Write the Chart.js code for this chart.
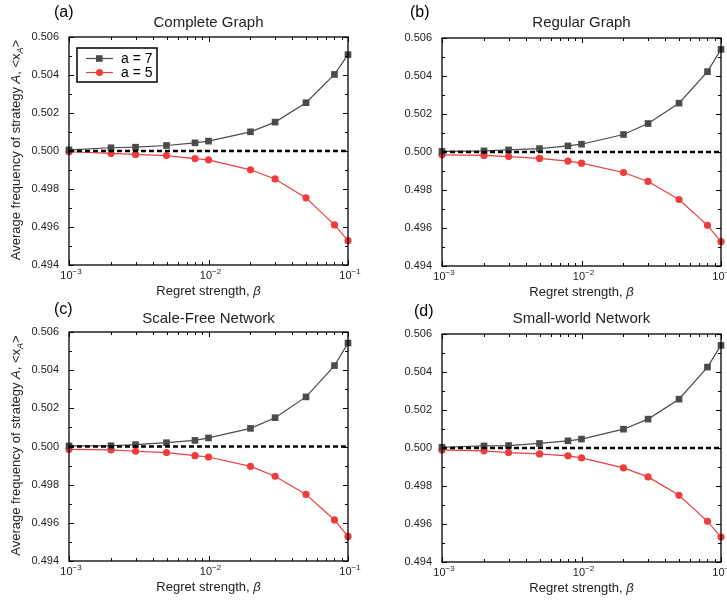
<!DOCTYPE html>
<html>
<head>
<meta charset="utf-8">
<script src="https://cdn.jsdelivr.net/npm/chart.js@4.4.1/dist/chart.umd.min.js"></script>
<style>
body{margin:0;background:#fff;width:727px;height:601px;position:relative;overflow:hidden;}
canvas{position:absolute;}
</style>
</head>
<body>
<canvas id="ca" style="left:0;top:0"></canvas>
<canvas id="cb" style="left:363px;top:0"></canvas>
<canvas id="cc" style="left:0;top:296px"></canvas>
<canvas id="cd" style="left:363px;top:296px"></canvas>
<script>
// regret strength values (x)
const beta = [0.001,0.002,0.003,0.005,0.008,0.01,0.02,0.03,0.05,0.08,0.1];

// (a) complete graph
const completeA7 = [0.50006,0.50017,0.5002,0.50029,0.50043,0.50052,0.50101,0.50152,0.50254,0.50403,0.50507];
const completeA5 = [0.49996,0.49987,0.49982,0.49976,0.4996,0.49953,0.49901,0.49853,0.49753,0.49611,0.49528];
// (b) regular graph
const regularA7 = [0.50003,0.50006,0.50011,0.50018,0.50032,0.50041,0.50092,0.5015,0.50257,0.50423,0.5054];
const regularA5 = [0.49985,0.49982,0.49976,0.49966,0.49952,0.49941,0.49892,0.49845,0.4975,0.49614,0.49528];
// (c) scale-free
const scaleFreeA7 = [0.50003,0.50004,0.5001,0.5002,0.50032,0.50045,0.50095,0.50151,0.5026,0.50424,0.50542];
const scaleFreeA5 = [0.49985,0.49982,0.49975,0.49968,0.49952,0.49945,0.49896,0.49844,0.49749,0.49615,0.49529];
// (d) small-world
const smallWorldA7 = [0.50004,0.50011,0.50013,0.50024,0.50038,0.50047,0.50099,0.50152,0.50257,0.50426,0.5054];
const smallWorldA5 = [0.4999,0.49985,0.49976,0.49969,0.49959,0.49948,0.49895,0.49848,0.49751,0.49614,0.49531];

const reference = [0.5,0.5];
const referenceX = [0.001,0.1];

const xTicks = [0.001,0.01,0.1];
const xTickExp = ["\u22123","\u22122","\u22121"];
const xMinorTicks = [0.002,0.003,0.004,0.005,0.006,0.007,0.008,0.009,0.02,0.03,0.04,0.05,0.06,0.07,0.08,0.09];
const yTicks = [0.494,0.496,0.498,0.5,0.502,0.504,0.506];
const yMinorTicks = [0.495,0.497,0.499,0.501,0.503,0.505];

const seriesNames = ["a = 7","a = 5"];
const grayCol = "#4b4b4b";
const redCol = "#f03c3c";

const FONT = "'Liberation Sans', Arial, sans-serif";

const framePlugin = {
id:"frame",
afterDatasetsDraw(chart, args, opts){
const ctx = chart.ctx;
const a = chart.chartArea;
const xs = chart.scales.x, ys = chart.scales.y;
ctx.save();
ctx.strokeStyle = "#000";
ctx.lineWidth = 1.3;
ctx.strokeRect(a.left, a.top, a.right-a.left, a.bottom-a.top);

ctx.lineWidth = 1;
ctx.beginPath();
const tick = (vals, len, horiz) => {
vals.forEach(v => {
if(horiz){
const px = Math.round(xs.getPixelForValue(v))+0.5;
ctx.moveTo(px,a.bottom); ctx.lineTo(px,a.bottom-len);
ctx.moveTo(px,a.top); ctx.lineTo(px,a.top+len);
} else {
const py = Math.round(ys.getPixelForValue(v))+0.5;
ctx.moveTo(a.left,py); ctx.lineTo(a.left+len,py);
ctx.moveTo(a.right,py); ctx.lineTo(a.right-len,py);
}
});
};
tick(xTicks,5,true);
tick(xMinorTicks,3,true);
tick(yTicks,5,false);
tick(yMinorTicks,3,false);
ctx.stroke();

// x tick labels: 10 with superscript exponent
ctx.fillStyle = "#222";
ctx.textBaseline = "alphabetic";
ctx.textAlign = "left";
xTicks.forEach((v,i) => {
ctx.font = "11px " + FONT;
const wb = ctx.measureText("10").width;
ctx.font = "8px " + FONT;
const we = ctx.measureText(xTickExp[i]).width;
const x0 = xs.getPixelForValue(v) - (wb+we)/2 + 2;
ctx.font = "11px " + FONT;
ctx.fillText("10", x0, a.bottom+13.5);
ctx.font = "8px " + FONT;
ctx.fillText(xTickExp[i], x0+wb, a.bottom+9);
});

// panel letter and title
ctx.fillStyle = "#000";
ctx.textBaseline = "middle";
ctx.textAlign = "left";
ctx.font = "16px " + FONT;
ctx.fillText(opts.label, opts.labelX, opts.labelY);
ctx.textAlign = "center";
ctx.font = "15px " + FONT;
ctx.fillStyle = "#222";
ctx.fillText(opts.title, (a.left+a.right)/2, 23);

// x title
const t1 = "Regret strength, ";
ctx.font = "13px " + FONT;
const w1 = ctx.measureText(t1).width;
ctx.font = "italic 13px " + FONT;
const w2 = ctx.measureText("\u03B2").width;
let sx = (a.left+a.right)/2 - (w1+w2)/2;
ctx.textAlign = "left";
ctx.font = "13px " + FONT;
ctx.fillText(t1, sx, a.bottom+26);
ctx.font = "italic 13px " + FONT;
ctx.fillText("\u03B2", sx+w1, a.bottom+26);

// y title with subscript
if(opts.yTitle){
const parts = [
{t:"Average frequency of strategy ", f:"13px "},
{t:"A", f:"italic 13px "},
{t:", <x", f:"13px "},
{t:"A", f:"italic 9px ", dy:4},
{t:">", f:"13px "}
];
let total = 0;
parts.forEach(p => { ctx.font = p.f + FONT; p.w = ctx.measureText(p.t).width; total += p.w; });
ctx.save();
ctx.translate(16,(a.top+a.bottom)/2 - 1);
ctx.rotate(-Math.PI/2);
let px = -total/2;
parts.forEach(p => { ctx.font = p.f + FONT; ctx.fillText(p.t, px, p.dy||0); px += p.w; });
ctx.restore();
}

// legend box
if(opts.legend){
ctx.lineWidth = 1.5;
ctx.strokeStyle = "#000";
ctx.strokeRect(77,48,80,34);
const rows = [{y:58.5,c:grayCol,sq:true},{y:72.5,c:redCol,sq:false}];
rows.forEach((r,i) => {
ctx.strokeStyle = r.c;
ctx.lineWidth = 1.2;
ctx.beginPath(); ctx.moveTo(86,r.y); ctx.lineTo(113,r.y); ctx.stroke();
ctx.fillStyle = r.c;
ctx.beginPath();
if(r.sq) ctx.rect(96,r.y-3.3,6.6,6.6); else ctx.arc(99.5,r.y,3.5,0,Math.PI*2);
ctx.fill();
ctx.fillStyle = "#000";
ctx.font = "14px " + FONT;
ctx.textAlign = "left";
ctx.fillText(seriesNames[i], 121, r.y+0.5);
});
}
ctx.restore();
}
};

function pts(vals, xv){
return (xv||beta).map((b,i) => ({x:b, y:vals[i]}));
}

function makePanel(id, a7, a5, pad, opts){
const canvas = document.getElementById(id);
canvas.width = pad.w; canvas.height = pad.h;
canvas.style.width = pad.w + "px"; canvas.style.height = pad.h + "px";
return new Chart(canvas,{
type:"line",
data:{
datasets:[
{
label:"ref",
data:pts(reference, referenceX),
borderColor:"#000",
borderWidth:2.6,
borderDash:[5,3],
pointRadius:0,
clip:false
},
{
label:seriesNames[0],
data:pts(a7),
borderColor:grayCol,
backgroundColor:grayCol,
borderWidth:1.2,
pointStyle:"rect",
pointRadius:4.7,
pointBorderWidth:0,
clip:false
},
{
label:seriesNames[1],
data:pts(a5),
borderColor:redCol,
backgroundColor:redCol,
borderWidth:1.2,
pointStyle:"circle",
pointRadius:3.6,
pointBorderWidth:0,
clip:false
}
]
},
options:{
responsive:false,
animation:false,
layout:{padding:{left:0, top:pad.top, right:pad.w-pad.right, bottom:0}},
plugins:{legend:{display:false}, tooltip:{enabled:false}, frame:opts},
scales:{
x:{
type:"logarithmic",
min:0.001, max:0.1,
grid:{display:false, drawTicks:false},
border:{display:false},
afterBuildTicks:(s) => { s.ticks = xTicks.map(v => ({value:v})); },
afterFit:(s) => { s.height = pad.h - pad.bottom; s.paddingLeft = 0; s.paddingRight = 0; },
ticks:{display:false}
},
y:{
type:"linear",
min:0.494, max:0.506,
grid:{display:false, drawTicks:false},
border:{display:false},
afterBuildTicks:(s) => { s.ticks = yTicks.map(v => ({value:v})); },
afterFit:(s) => { s.width = pad.left; s.paddingTop = 0; s.paddingBottom = 0; },
ticks:{
padding:10,
color:"#222",
font:{family:FONT, size:11},
callback:(v) => Number(v).toFixed(3)
}
}
}
},
plugins:[framePlugin]
});
}

makePanel("ca", completeA7, completeA5, {w:363,h:304,left:69,top:37,right:348,bottom:265},
{label:"(a)", labelX:54, labelY:13, title:"Complete Graph", yTitle:true, legend:true});
makePanel("cb", regularA7, regularA5, {w:364,h:304,left:79,top:38,right:358,bottom:266},
{label:"(b)", labelX:47, labelY:13, title:"Regular Graph", yTitle:false, legend:false});
makePanel("cc", scaleFreeA7, scaleFreeA5, {w:363,h:305,left:69,top:36,right:348,bottom:265},
{label:"(c)", labelX:54, labelY:14, title:"Scale-Free Network", yTitle:true, legend:false});
makePanel("cd", smallWorldA7, smallWorldA5, {w:364,h:305,left:79,top:38,right:358,bottom:266},
{label:"(d)", labelX:51, labelY:16, title:"Small-world Network", yTitle:false, legend:false});
</script>
</body>
</html>
